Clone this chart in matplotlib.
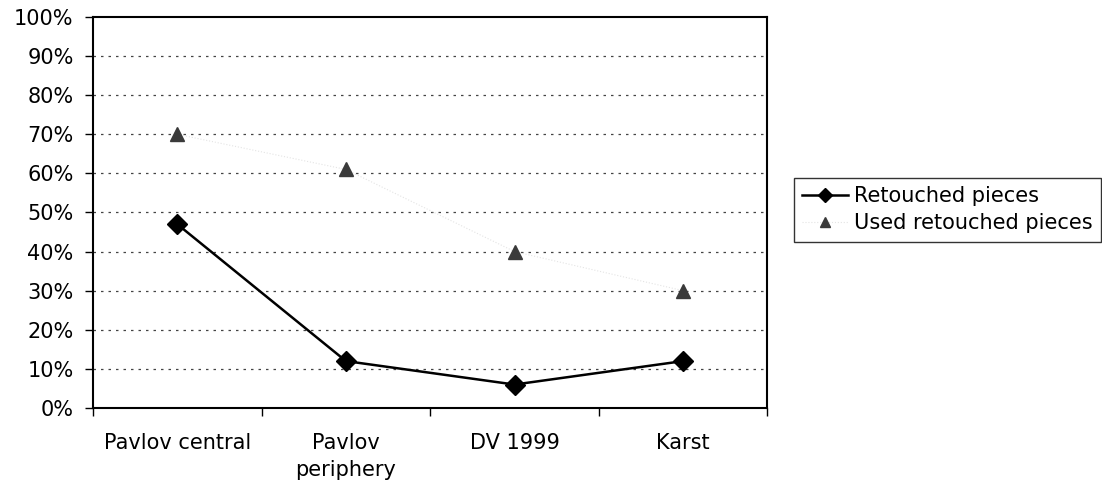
import matplotlib.pyplot as plt
from matplotlib.ticker import FixedLocator, PercentFormatter

sites = ['Pavlov central', 'Pavlov\nperiphery', 'DV 1999', 'Karst']
retouched = [47, 12, 6, 12]
used_retouched = [70, 61, 40, 30]

plt.rcParams['font.family'] = 'DejaVu Sans'

fig = plt.figure(figsize=(11.02, 4.84), dpi=100)
ax = fig.add_axes([0.0844, 0.157, 0.612, 0.808])

x = range(len(sites))
ax.plot(x, retouched, color='black', lw=1.8, marker='D', markersize=10,
        label='Retouched pieces', zorder=4)
ax.plot(x, used_retouched, color='#e4e4e4', lw=0.8, ls=':', marker='^',
        markersize=10, markerfacecolor='#3a3a3a', markeredgecolor='#3a3a3a',
        label='Used retouched pieces', zorder=3)

ax.set_xlim(-0.5, 3.5)
ax.set_ylim(0, 100)
ax.yaxis.set_major_locator(FixedLocator(range(0, 101, 10)))
ax.yaxis.set_major_formatter(PercentFormatter(decimals=0))
ax.set_xticks(list(x))
ax.set_xticklabels(sites, linespacing=1.45)
ax.xaxis.set_minor_locator(FixedLocator([-0.5, 0.5, 1.5, 2.5, 3.5]))
ax.tick_params(axis='x', which='major', length=0, pad=18, labelsize=15)
ax.tick_params(axis='x', which='minor', length=6, width=1, direction='out')
ax.tick_params(axis='y', length=6, width=1, direction='out', labelsize=15, pad=8)

for y in range(10, 100, 10):
    ax.axhline(y, color='#444444', lw=0.9, ls=(0, (2, 4)), zorder=1)

for s in ax.spines.values():
    s.set_color('black')
    s.set_linewidth(1.5)

leg = ax.legend(loc='center left', bbox_to_anchor=(0.711, 0.567),
                bbox_transform=fig.transFigure, fontsize=15, frameon=True,
                fancybox=False, edgecolor='black', handlelength=2.2,
                handletextpad=0.3, borderpad=0.4, labelspacing=0.35,
                markerscale=0.75)
leg.get_frame().set_linewidth(1.0)

fig.savefig('out.png', dpi=100)
